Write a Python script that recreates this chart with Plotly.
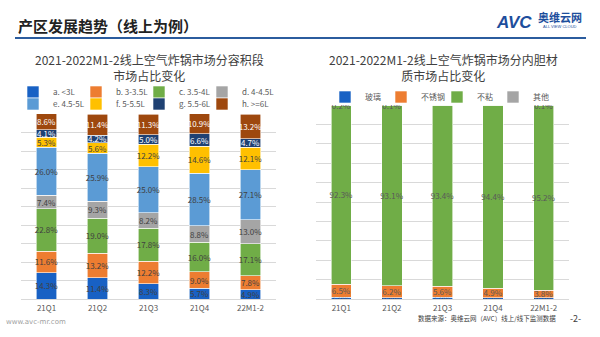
import plotly.graph_objects as go

# ---------------- data ----------------
periods = ["21Q1", "21Q2", "21Q3", "21Q4", "22M1-2"]

cap_names = ["a. <3L", "b. 3-3.5L", "c. 3.5-4L", "d. 4-4.5L",
             "e. 4.5-5L", "f. 5-5.5L", "g. 5.5-6L", "h. >=6L"]
cap_a = [14.3, 11.4, 8.3, 5.7, 4.9]
cap_b = [11.6, 13.2, 12.2, 9.0, 7.8]
cap_c = [22.8, 19.0, 17.8, 16.0, 17.1]
cap_d = [7.4, 9.3, 8.2, 8.8, 13.0]
cap_e = [26.0, 25.9, 25.0, 28.5, 27.1]
cap_f = [5.3, 5.6, 12.2, 14.6, 12.1]
cap_g = [4.1, 4.2, 5.0, 6.6, 4.7]
cap_h = [8.6, 11.4, 11.3, 10.9, 13.2]

mat_names = ["玻璃", "不锈钢", "不粘", "其他"]
mat_glass = [1.0, 0.6, 1.0, 0.7, 0.7]
mat_steel = [6.5, 6.2, 5.6, 4.9, 3.8]
mat_nonstick = [92.3, 93.1, 93.4, 94.4, 95.2]
mat_other = [0.2, 0.1, 0.0, 0.0, 0.1]

# ---------------- styles ----------------
W, H = 600, 337
FONT = "Noto Sans CJK SC"
cap_colors = ["#1861C4", "#ED7D31", "#70AD47", "#A5A5A5",
              "#5B9BD5", "#FFC000", "#1F4173", "#9E480E"]
cap_text = ["#404040", "#404040", "#404040", "#404040",
            "#404040", "#404040", "#FFFFFF", "#FFFFFF"]
mat_colors = ["#1861C4", "#ED7D31", "#70AD47", "#A5A5A5"]


def py(px):
    return 1 - px / H


def pxx(px):
    return px / W


fig = go.Figure()

cap_series = [cap_a, cap_b, cap_c, cap_d, cap_e, cap_f, cap_g, cap_h]
for i, (name, vals) in enumerate(zip(cap_names, cap_series)):
    fig.add_trace(go.Bar(
        x=periods, y=vals, name=name,
        marker=dict(color=cap_colors[i], line=dict(color="white", width=0.6)),
        text=[f"{v:.1f}%" for v in vals], textposition="inside",
        insidetextanchor="middle", textangle=0,
        textfont=dict(size=8, color=cap_text[i], family=FONT),
        xaxis="x", yaxis="y",
        legend="legend" if i < 4 else "legend2",
        legendwidth=45 if i in (3, 7) else 18,
        hoverinfo="skip",
    ))

mat_series = [mat_glass, mat_steel, mat_nonstick, mat_other]
for i, (name, vals) in enumerate(zip(mat_names, mat_series)):
    fig.add_trace(go.Bar(
        x=periods, y=vals, name=name,
        marker=dict(color=mat_colors[i], line=dict(color="white", width=0.6)),
        text=[f"{v:.1f}%" for v in vals], textposition="inside",
        insidetextanchor="middle", textangle=0,
        textfont=dict(size=8, color="#595959", family=FONT),
        xaxis="x2", yaxis="y2",
        legend="legend3",
        legendwidth=30 if i == 3 else 11,
        hoverinfo="skip",
    ))

axis_common = dict(showline=False, ticks="", tickfont=dict(size=8, color="#595959", family=FONT),
                   showgrid=False, zeroline=False, ticklabelstandoff=3)
yaxis_common = dict(range=[0, 100], dtick=10, showticklabels=False, showgrid=True,
                    gridcolor="#D9D9D9", gridwidth=1, zeroline=True, zerolinecolor="#D9D9D9",
                    zerolinewidth=1, showline=False, ticks="")

legend_common = dict(orientation="h", font=dict(size=8, color="#595959", family=FONT),
                     bgcolor="rgba(0,0,0,0)", xanchor="left", yanchor="middle",
                     itemclick=False, itemdoubleclick=False, traceorder="normal",
                     entrywidthmode="pixels", tracegroupgap=0)

fig.update_layout(
    width=W, height=H,
    margin=dict(l=0, r=0, t=0, b=0),
    paper_bgcolor="white", plot_bgcolor="white",
    barmode="stack", bargap=0.6,
    showlegend=True,
    uniformtext=dict(mode="show", minsize=7.5),
    font=dict(family=FONT, color="#404040"),
    xaxis=dict(domain=[pxx(21), pxx(276)], anchor="y", **axis_common),
    yaxis=dict(domain=[py(299), py(114)], anchor="x", **yaxis_common),
    xaxis2=dict(domain=[pxx(316), pxx(569)], anchor="y2", **axis_common),
    yaxis2=dict(domain=[py(299), py(105)], anchor="x2", **yaxis_common),
    legend=dict(x=pxx(13), y=py(92), **legend_common),
    legend2=dict(x=pxx(13), y=py(104), **legend_common),
    legend3=dict(x=pxx(325), y=py(97), **legend_common),
)

# page title and rule
fig.add_annotation(text="<b>产区发展趋势（线上为例）</b>", x=pxx(16), y=py(25), xref="paper", yref="paper",
                   xanchor="left", yanchor="middle", showarrow=False,
                   font=dict(size=15, color="#222222", family=FONT))
fig.add_shape(type="line", xref="paper", yref="paper", x0=pxx(15), x1=pxx(586), y0=py(38), y1=py(38),
              line=dict(color="#2B5C9E", width=2))

# logo
fig.add_annotation(text="<b><i>AVC</i></b>", x=pxx(514), y=py(22), xref="paper", yref="paper",
                   xanchor="center", yanchor="middle", showarrow=False,
                   font=dict(size=17, color="#1D4E9C", family="Liberation Sans"))
fig.add_annotation(text="<b>奥维云网</b>", x=pxx(560), y=py(17), xref="paper", yref="paper",
                   xanchor="center", yanchor="middle", showarrow=False,
                   font=dict(size=11, color="#1D4E9C", family=FONT))
fig.add_annotation(text="ALL VIEW CLOUD", x=pxx(560), y=py(26), xref="paper", yref="paper",
                   xanchor="center", yanchor="middle", showarrow=False,
                   font=dict(size=4, color="#1D4E9C", family="Liberation Sans"))

# chart titles
fig.add_annotation(text="2021-2022M1-2线上空气炸锅市场分容积段<br>市场占比变化", x=pxx(149), y=py(67),
                   xref="paper", yref="paper", xanchor="center", yanchor="middle", showarrow=False,
                   align="center", font=dict(size=12, color="#404040", family=FONT))
fig.add_annotation(text="2021-2022M1-2线上空气炸锅市场分内胆材<br>质市场占比变化", x=pxx(443), y=py(67),
                   xref="paper", yref="paper", xanchor="center", yanchor="middle", showarrow=False,
                   align="center", font=dict(size=12, color="#404040", family=FONT))

# footer
fig.add_annotation(text="www.avc-mr.com", x=pxx(4), y=py(322), xref="paper", yref="paper",
                   xanchor="left", yanchor="middle", showarrow=False,
                   font=dict(size=7, color="#A0A0A0", family="DejaVu Sans"))
fig.add_annotation(text="数据来源：奥维云网（AVC）线上/线下监测数据", x=pxx(558), y=py(318), xref="paper", yref="paper",
                   xanchor="right", yanchor="middle", showarrow=False,
                   font=dict(size=6.5, color="#404040", family=FONT))
fig.add_annotation(text="-2-", x=pxx(575), y=py(318), xref="paper", yref="paper",
                   xanchor="center", yanchor="middle", showarrow=False,
                   font=dict(size=9, color="#404040", family=FONT))

fig.write_html("out.html")
